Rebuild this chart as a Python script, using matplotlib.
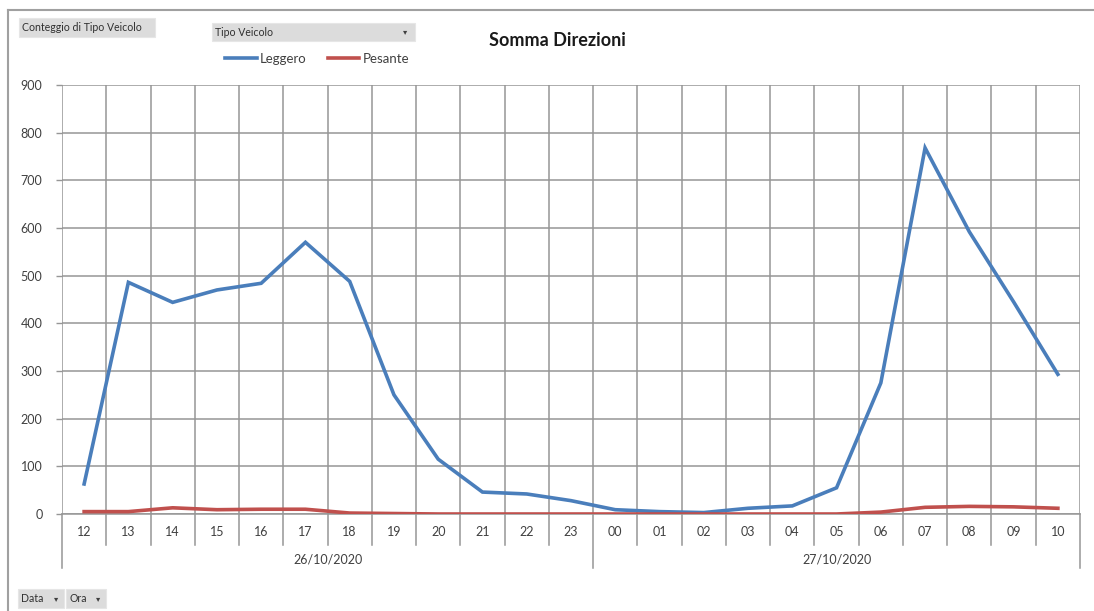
import matplotlib
matplotlib.use("Agg")
import matplotlib.pyplot as plt
import matplotlib.transforms as mtransforms
from matplotlib.patches import Rectangle
from matplotlib.lines import Line2D

plt.rcParams['font.family'] = ['Lato', 'DejaVu Sans']

# Hourly counts by vehicle type
hours = ["12", "13", "14", "15", "16", "17", "18", "19", "20", "21", "22", "23",
         "00", "01", "02", "03", "04", "05", "06", "07", "08", "09", "10"]
dates = ["26/10/2020", "27/10/2020"]
hours_per_date = [12, 11]
leggero = [63, 486, 444, 470, 484, 570, 488, 250, 115, 46, 42, 28,
           9, 5, 3, 12, 17, 55, 275, 768, 592, 445, 293]
pesante = [5, 5, 13, 9, 10, 10, 2, 1, 0, 0, 0, 0,
           0, 0, 0, 0, 0, 0, 4, 14, 16, 15, 12]
y_ticks = [0, 100, 200, 300, 400, 500, 600, 700, 800, 900]

W, H = 1094, 611
fig = plt.figure(figsize=(W / 100, H / 100), dpi=100)
fig.patch.set_facecolor("white")


def fx(px):
    return px / W


def fy(py):
    return 1 - py / H


ax = fig.add_axes([fx(62), fy(514), fx(1080) - fx(62), fy(85) - fy(514)])
x = list(range(len(hours)))
grid_c = "#969696"

ax.plot(x, leggero, color="#4a7ebb", lw=2.6, solid_joinstyle="miter", label="Leggero", zorder=3)
ax.plot(x, pesante, color="#c0504d", lw=2.6, label="Pesante", zorder=3)

ax.set_xlim(-0.5, len(hours) - 0.5)
ax.set_ylim(0, 900)
ax.set_yticks(y_ticks)
ax.set_yticklabels([str(v) for v in y_ticks], fontsize=9, color="#404040")
ax.tick_params(axis="y", length=4, width=1, color=grid_c, pad=10)
ax.yaxis.grid(True, color=grid_c, lw=1.1)

# category boundaries as vertical gridlines
ax.set_xticks([k - 0.5 for k in range(len(hours) + 1)])
ax.set_xticklabels([])
ax.tick_params(axis="x", length=0)
ax.xaxis.grid(True, color=grid_c, lw=1.1)
for s in ["top", "right", "left"]:
    ax.spines[s].set_visible(False)
ax.spines["bottom"].set_color(grid_c)
ax.spines["bottom"].set_linewidth(1.1)

# multi-level category axis below the plot
trans = mtransforms.blended_transform_factory(ax.transData, ax.transAxes)
ax_h = fy(85) - fy(514)
hpx = H * ax_h


def ay(px_below):
    return -px_below / hpx


for k, lab in enumerate(hours):
    ax.text(k, ay(18), lab, transform=trans, ha="center", va="center",
            fontsize=9, color="#404040")

bounds = [0]
for n in hours_per_date:
    bounds.append(bounds[-1] + n)
for k in range(len(hours) + 1):
    long_tick = k in bounds
    ax.add_line(Line2D([k - 0.5, k - 0.5], [0, ay(54 if long_tick else 31)],
                       transform=trans, color=grid_c, lw=1.1, clip_on=False))
for i, d in enumerate(dates):
    mid = (bounds[i] + bounds[i + 1] - 1) / 2
    ax.text(mid, ay(46), d, transform=trans, ha="center", va="center",
            fontsize=9, color="#404040")

# title and legend
fig.text(fx(557), fy(40), "Somma Direzioni", ha="center", va="center",
         fontsize=13, fontweight="bold", color="#1a1a1a")
fig.legend(loc="center", bbox_to_anchor=(fx(317), fy(59)), ncol=2, frameon=False,
           fontsize=9.5, handlelength=2.4, handletextpad=0.25, columnspacing=1.6,
           labelcolor="#404040")

# outer chart frame
fig.add_artist(Line2D([fx(8), 1], [fy(10), fy(10)], color="#a0a0a0", lw=1.5))
fig.add_artist(Line2D([fx(8), fx(8)], [fy(10), 0], color="#a0a0a0", lw=1.5))


def button(x0, y0, x1, y1, text, arrow_x=None):
    fig.add_artist(Rectangle((fx(x0), fy(y1)), fx(x1) - fx(x0), fy(y0) - fy(y1),
                             facecolor="#dcdcdc", edgecolor="#e6e6e6", lw=0.8))
    fig.text(fx(x0 + 3), fy((y0 + y1) / 2), text, ha="left", va="center",
             fontsize=7.6, color="#303030")
    if arrow_x is not None:
        fig.text(fx(arrow_x), fy((y0 + y1) / 2), "▾", ha="center", va="center",
                 fontsize=6, color="#404040", family="DejaVu Sans")


button(19, 18, 155, 37, "Conteggio di Tipo Veicolo")
button(212, 23, 415, 41, "Tipo Veicolo", arrow_x=405)
button(18, 589, 64, 608, "Data", arrow_x=56)
button(66, 589, 106, 608, "Ora", arrow_x=98)

fig.savefig("out.png", dpi=100)
